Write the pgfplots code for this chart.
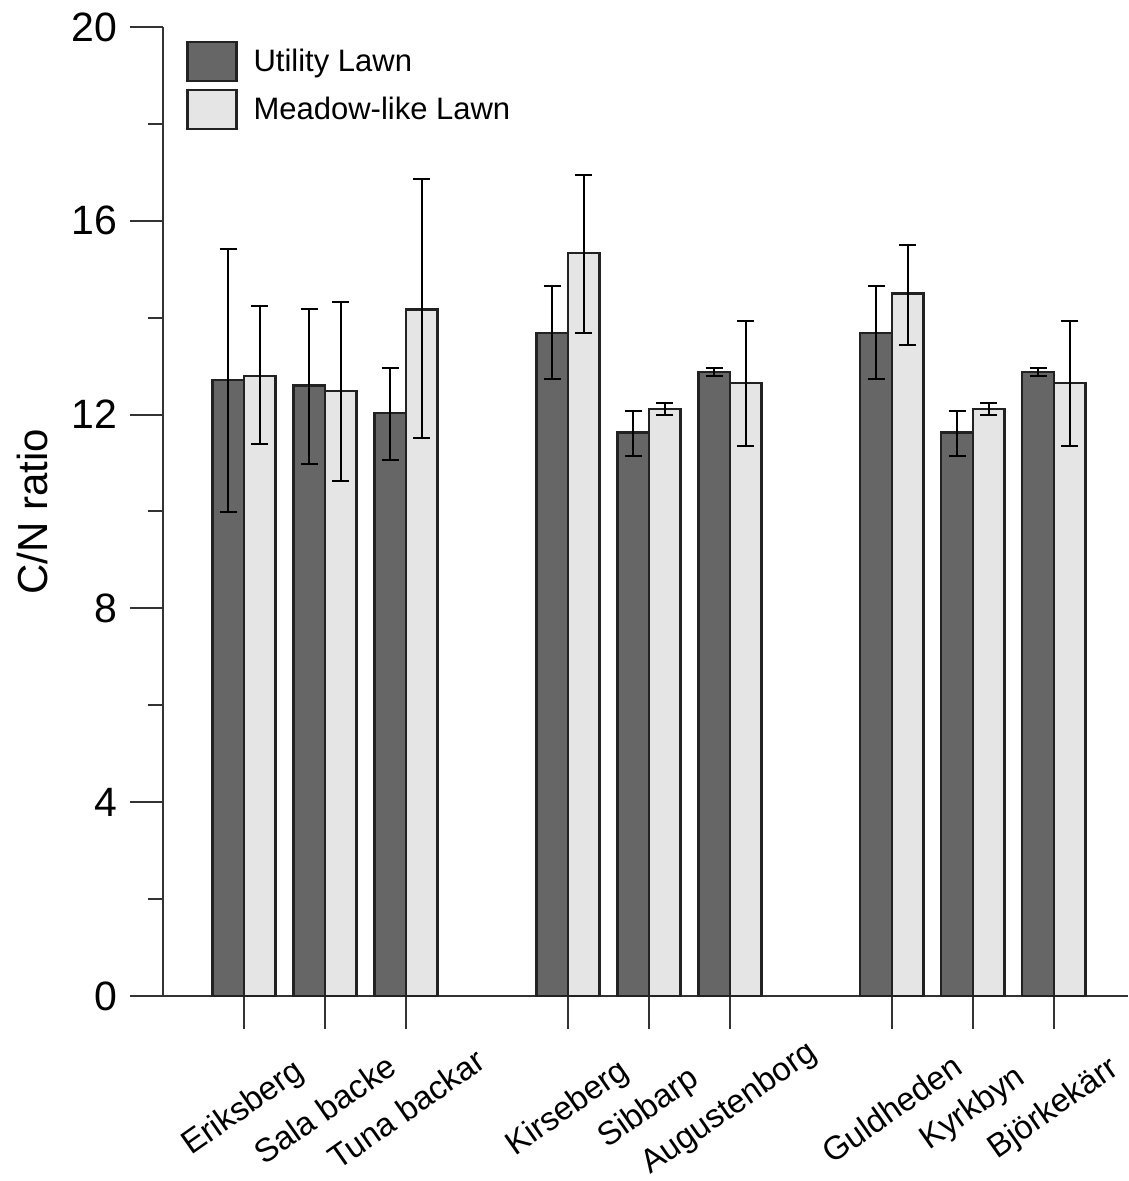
\documentclass[border=0pt]{standalone}
\usepackage{fontspec}
\setmainfont{Liberation Sans}
\usepackage{pgfplots}
\pgfplotsset{compat=1.18}
\usepackage{pgfplotstable}
\definecolor{utility}{HTML}{666666}
\definecolor{meadow}{HTML}{E5E5E5}
\definecolor{edge}{HTML}{222222}

\pgfplotstableread{
x  y     ep    em
0  12.71 2.71  2.73
1  12.60 1.57  1.61
2  12.04 0.93  0.97
4  13.69 0.96  0.96
5  11.63 0.45  0.48
6  12.88 0.09  0.08
8  13.69 0.96  0.96
9  11.63 0.45  0.48
10 12.88 0.09  0.08
}\utilitydata

\pgfplotstableread{
x  y     ep    em
0  12.80 1.45  1.41
1  12.48 1.85  1.86
2  14.17 2.70  2.65
4  15.34 1.61  1.65
5  12.12 0.11  0.13
6  12.65 1.28  1.30
8  14.50 1.00  1.06
9  12.12 0.11  0.13
10 12.65 1.28  1.30
}\meadowdata

\begin{document}
\begin{tikzpicture}
\useasboundingbox (-81.5pt,-92.5pt) rectangle (482.5pt,498pt);
\begin{axis}[
  at={(0pt,0pt)}, anchor=south west,
  width=482.5pt, height=484.5pt, scale only axis,
  xmin=-1, xmax=10.914, ymin=0, ymax=20,
  axis x line*=bottom, axis y line*=left,
  axis line style={line width=1pt, black!80},
  tick align=outside,
  major tick length=16.5pt, minor tick length=7.5pt,
  tick style={line width=1pt, black!80},
  ytick={0,4,...,20}, minor ytick={2,6,...,18},
  xtick={0,1,2,4,5,6,8,9,10},
  xticklabels={Eriksberg, Sala backe, Tuna backar, Kirseberg, Sibbarp, Augustenborg, Guldheden, Kyrkbyn, Björkekärr},
  /pgf/number format/assume math mode=true,
  yticklabel style={font=\fontsize{20.5}{24}\selectfont, xshift=-3pt},
  xticklabel style={font=\fontsize{16.5}{19}\selectfont, yshift=-40pt, rotate=35, anchor=center},
  ylabel={C/N ratio},
  every axis y label/.style={at={(axis description cs:-0.1357,0.5)}, rotate=90, anchor=center, font=\fontsize{21}{25}\selectfont},
  legend image code/.code={\draw[#1] (0pt,-9.75pt) rectangle (24.5pt,9.75pt);},
  legend style={at={(axis description cs:0.0238,0.986)}, anchor=north west, draw=none, fill=none, inner sep=0pt, row sep=3.5pt, column sep=8pt, font=\fontsize{15.5}{18}\selectfont, nodes={inner sep=0pt}},
  legend cell align=left,
]
\addplot[ybar, bar width=0.39, bar shift=0, fill=utility, draw=edge, line width=1.1pt,
  error bars/.cd, y dir=both, y explicit,
  error bar style={line width=1pt, black},
  error mark options={rotate=90, mark size=4.25pt, line width=1pt, black}]
  table[x expr=\thisrow{x}-0.195, y=y, y error plus=ep, y error minus=em] {\utilitydata};
\addlegendentry{Utility Lawn}
\addplot[ybar, bar width=0.39, bar shift=0, fill=meadow, draw=edge, line width=1.1pt,
  error bars/.cd, y dir=both, y explicit,
  error bar style={line width=1pt, black},
  error mark options={rotate=90, mark size=4.25pt, line width=1pt, black}]
  table[x expr=\thisrow{x}+0.195, y=y, y error plus=ep, y error minus=em] {\meadowdata};
\addlegendentry{Meadow-like Lawn}
\end{axis}
\end{tikzpicture}
\end{document}
